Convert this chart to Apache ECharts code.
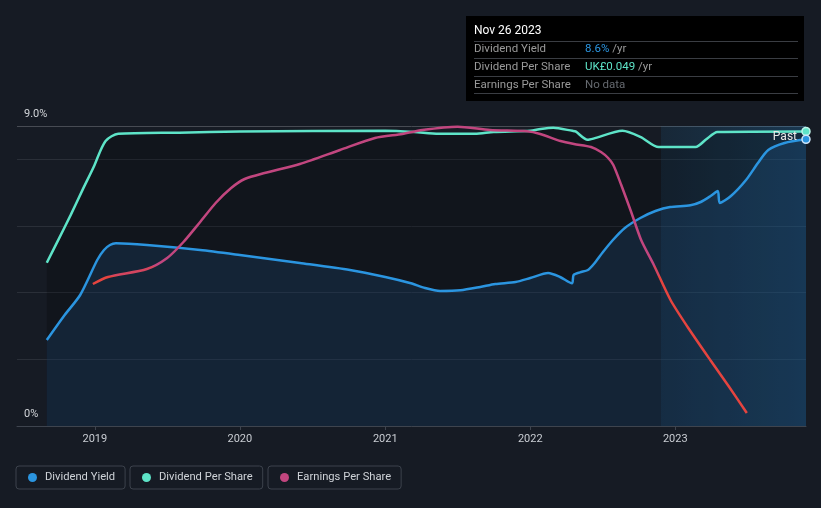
<!DOCTYPE html>
<html><head><meta charset="utf-8">
<script src="https://cdn.jsdelivr.net/npm/echarts@6/dist/echarts.min.js"></script>
<style>html,body{margin:0;padding:0;background:#161b24;}#c{width:821px;height:508px;}</style>
</head><body><div id="c"></div>
<script>
// ---- Data ----
const yearTicks = ['2019-01-01','2020-01-01','2021-01-01','2022-01-01','2023-01-01'];
const yLabelValues = [0, 9];

const yieldDates = ['2018-09-02','2018-10-17','2018-11-25','2019-01-07','2019-01-24','2019-02-08','2019-02-23','2019-05-12','2019-09-23','2020-01-01','2020-05-31','2020-10-04','2021-01-01','2021-03-04','2021-04-11','2021-05-19','2021-07-09','2021-08-28','2021-10-05','2021-11-25','2022-01-01','2022-02-15','2022-03-17','2022-04-16','2022-04-20','2022-05-06','2022-05-26','2022-06-10','2022-07-03','2022-07-28','2022-08-27','2022-10-05','2022-11-12','2022-12-19','2023-02-08','2023-03-06','2023-03-31','2023-04-18','2023-04-23','2023-05-21','2023-06-28','2023-07-28','2023-08-23','2023-10-03','2023-11-26'];
const yieldValues = [2.58,3.33,3.93,4.98,5.28,5.43,5.48,5.43,5.28,5.13,4.89,4.68,4.47,4.29,4.14,4.05,4.07,4.17,4.26,4.32,4.44,4.59,4.47,4.28,4.53,4.61,4.68,4.86,5.22,5.58,5.94,6.24,6.45,6.57,6.62,6.72,6.90,7.05,6.69,6.90,7.38,7.89,8.28,8.49,8.60];

const dpsDates = ['2018-09-02','2018-10-01','2018-11-01','2018-12-01','2018-12-31','2019-01-15','2019-01-28','2019-02-12','2019-03-01','2019-08-01','2020-01-01','2021-01-01','2021-03-15','2021-05-15','2021-08-15','2021-10-01','2022-01-01','2022-01-27','2022-02-28','2022-04-17','2022-04-25','2022-05-25','2022-06-09','2022-08-21','2022-10-05','2022-11-20','2023-02-21','2023-03-20','2023-04-17','2023-11-26'];
const dpsValues = [0.0271,0.0309,0.0350,0.0392,0.0433,0.0457,0.0473,0.0481,0.0485,0.0487,0.0489,0.0490,0.0488,0.0485,0.0485,0.0488,0.0490,0.0493,0.0495,0.0490,0.0489,0.0475,0.0477,0.0490,0.0480,0.0463,0.0463,0.0476,0.0488,0.0489];

const epsDates = ['2018-12-27','2019-02-03','2019-05-12','2019-07-02','2019-08-12','2019-09-23','2019-11-01','2019-12-10','2020-01-13','2020-03-03','2020-05-31','2020-09-09','2020-12-06','2021-02-13','2021-04-04','2021-07-02','2021-09-21','2021-12-24','2022-01-26','2022-03-18','2022-04-21','2022-06-03','2022-06-28','2022-07-16','2022-07-29','2022-08-18','2022-09-12','2022-10-07','2022-11-08','2022-12-20','2023-02-01','2023-03-30','2023-05-15','2023-06-30'];
const epsValues = [0.0426,0.0447,0.0471,0.0504,0.0552,0.0612,0.0669,0.0714,0.0741,0.0759,0.0786,0.0828,0.0864,0.0876,0.0888,0.0898,0.0888,0.0884,0.0876,0.0855,0.0846,0.0837,0.0822,0.0804,0.0783,0.0723,0.0642,0.0558,0.0483,0.0378,0.0297,0.0198,0.0120,0.0039];

const axisStart = '2018-06-19';
const pastStart = '2022-11-26';
const lastDate = '2023-11-26';

// ---- Styles ----
const C_YIELD = '#2b95e0', C_DPS = '#5ee4c8', C_EPS = '#c2467f', C_EPS_NEG = '#e5443f';
const FONT = 'Roboto, "Noto Sans", sans-serif';
const TXT = '11.5px ' + FONT;

const ts = d => echarts.time.parse(d).getTime();
const zip = (d, v) => d.map((x, i) => [ts(x), v[i]]);
const chart = echarts.init(document.getElementById('c'), null, {renderer: 'canvas'});

chart.setOption({
  backgroundColor: '#161b24',
  animation: false,
  grid: {left: 17, right: 15, top: 126, bottom: 82, containLabel: false},
  xAxis: {
    type: 'value',
    min: ts(axisStart), max: ts(lastDate),
    axisLine: {show: true, onZero: false, lineStyle: {color: '#3e444e', width: 1}},
    axisTick: {show: true, length: 4, lineStyle: {color: '#3e444e'}, customValues: yearTicks.map(ts)},
    axisLabel: {color: '#c9cdd3', fontSize: 11, fontFamily: FONT, margin: 8,
      customValues: yearTicks.map(ts),
      formatter: v => String(new Date(v).getFullYear())},
    splitLine: {show: false}
  },
  yAxis: [
    {type: 'value', min: 0, max: 9, interval: 2,
      axisLine: {show: false}, axisTick: {show: false},
      axisLabel: {inside: true, margin: 7, color: '#d3d6da', fontSize: 11, fontFamily: FONT,
        verticalAlign: 'bottom', lineHeight: 23, customValues: yLabelValues,
        formatter: v => v === 9 ? '9.0%' : '0%'},
      splitLine: {show: true, lineStyle: {color: ['#2a2f38','#2a2f38','#2a2f38','#2a2f38','#2a2f38','#474b53'], width: 1}}},
    {type: 'value', min: 0, max: 0.0498, show: false, splitLine: {show: false}},
    {type: 'value', min: 0, max: 0.09, show: false, splitLine: {show: false}}
  ],
  visualMap: {
    type: 'piecewise', show: false, seriesIndex: 2, dimension: 1,
    pieces: [
      {lt: 0.045, color: C_EPS_NEG},
      {gte: 0.045, lt: 0.048, color: '#d4455f'},
      {gte: 0.048, color: C_EPS}
    ]
  },
  legend: [
    {data: ['Dividend Yield'], left: 16, top: 466},
    {data: ['Dividend Per Share'], left: 130, top: 466},
    {data: ['Earnings Per Share'], left: 268, top: 466}
  ].map(l => Object.assign(l, {
    icon: 'circle', itemWidth: 9, itemHeight: 9, padding: [6, 10, 6, 12],
    borderColor: '#3c424c', borderWidth: 1, borderRadius: 3, selectedMode: false,
    textStyle: {color: '#cfd3d8', fontSize: 11.2, fontFamily: FONT, padding: [0, 0, 0, 3]}
  })),
  series: [
    {name: 'Dividend Per Share', type: 'line', yAxisIndex: 1, data: zip(dpsDates, dpsValues),
      smooth: 0.25, showSymbol: false, symbol: 'none',
      lineStyle: {color: C_DPS, width: 2.5}, itemStyle: {color: C_DPS},
      areaStyle: {color: 'rgba(0,0,0,0.28)', origin: 'start'},
      markArea: {silent: true, itemStyle: {color: new echarts.graphic.LinearGradient(0, 0, 1, 0, [
          {offset: 0, color: 'rgba(35,148,223,0.10)'}, {offset: 1, color: 'rgba(35,148,223,0.24)'}])},
        data: [[{xAxis: ts(pastStart)}, {xAxis: ts(lastDate)}]]},
      markPoint: {silent: true, symbol: 'circle', symbolSize: 8, animation: false,
        itemStyle: {color: C_DPS, borderColor: '#bff5ea', borderWidth: 1.5}, label: {show: false},
        data: [{coord: [ts(lastDate), dpsValues[dpsValues.length - 1]]}]}
    },
    {name: 'Dividend Yield', type: 'line', yAxisIndex: 0, data: zip(yieldDates, yieldValues),
      smooth: 0.25, showSymbol: false, symbol: 'none',
      lineStyle: {color: C_YIELD, width: 2.5}, itemStyle: {color: C_YIELD},
      areaStyle: {color: 'rgba(40,130,210,0.2)', origin: 'start'},
      markPoint: {silent: true, symbol: 'circle', symbolSize: 8, animation: false,
        itemStyle: {color: C_YIELD, borderColor: '#cfe6fa', borderWidth: 1.5}, label: {show: false},
        data: [{coord: [ts(lastDate), yieldValues[yieldValues.length - 1]]}]}
    },
    {name: 'Earnings Per Share', type: 'line', yAxisIndex: 2, data: zip(epsDates, epsValues),
      smooth: 0.25, showSymbol: false, symbol: 'none',
      lineStyle: {width: 2.5}, itemStyle: {color: C_EPS}
    }
  ],
  graphic: [
    {type: 'text', right: 24, top: 131, z: 100,
      style: {text: 'Past', fill: '#e8e8e8', font: '12px ' + FONT}},
    {type: 'group', left: 466, top: 16, z: 100, children: [
      {type: 'rect', shape: {x: 0, y: 0, width: 338, height: 85}, style: {fill: '#000000'}},
      {type: 'text', x: 8, y: 15, style: {text: 'Nov 26 2023', fill: '#ffffff', font: '12px ' + FONT, verticalAlign: 'middle'}},
      {type: 'line', shape: {x1: 8, y1: 25.5, x2: 332, y2: 25.5}, style: {stroke: '#3a3d43', lineWidth: 1}},
      {type: 'text', x: 8, y: 33, style: {text: 'Dividend Yield', fill: '#9a9a9a', font: TXT, verticalAlign: 'middle'}},
      {type: 'text', x: 119, y: 33, style: {text: '{a|8.6%}{b| /yr}', verticalAlign: 'middle',
        rich: {a: {fill: C_YIELD, font: TXT}, b: {fill: '#9a9a9a', font: TXT}}}},
      {type: 'line', shape: {x1: 8, y1: 42.5, x2: 332, y2: 42.5}, style: {stroke: '#3a3d43', lineWidth: 1}},
      {type: 'text', x: 8, y: 51, style: {text: 'Dividend Per Share', fill: '#9a9a9a', font: TXT, verticalAlign: 'middle'}},
      {type: 'text', x: 119, y: 51, style: {text: '{a|UK£0.049}{b| /yr}', verticalAlign: 'middle',
        rich: {a: {fill: C_DPS, font: TXT}, b: {fill: '#9a9a9a', font: TXT}}}},
      {type: 'line', shape: {x1: 8, y1: 60.5, x2: 332, y2: 60.5}, style: {stroke: '#3a3d43', lineWidth: 1}},
      {type: 'text', x: 8, y: 69, style: {text: 'Earnings Per Share', fill: '#9a9a9a', font: TXT, verticalAlign: 'middle'}},
      {type: 'text', x: 119, y: 69, style: {text: 'No data', fill: '#666a70', font: TXT, verticalAlign: 'middle'}},
      {type: 'line', shape: {x1: 8, y1: 77.5, x2: 332, y2: 77.5}, style: {stroke: '#3a3d43', lineWidth: 1}}
    ]}
  ]
});
</script>
</body></html>
